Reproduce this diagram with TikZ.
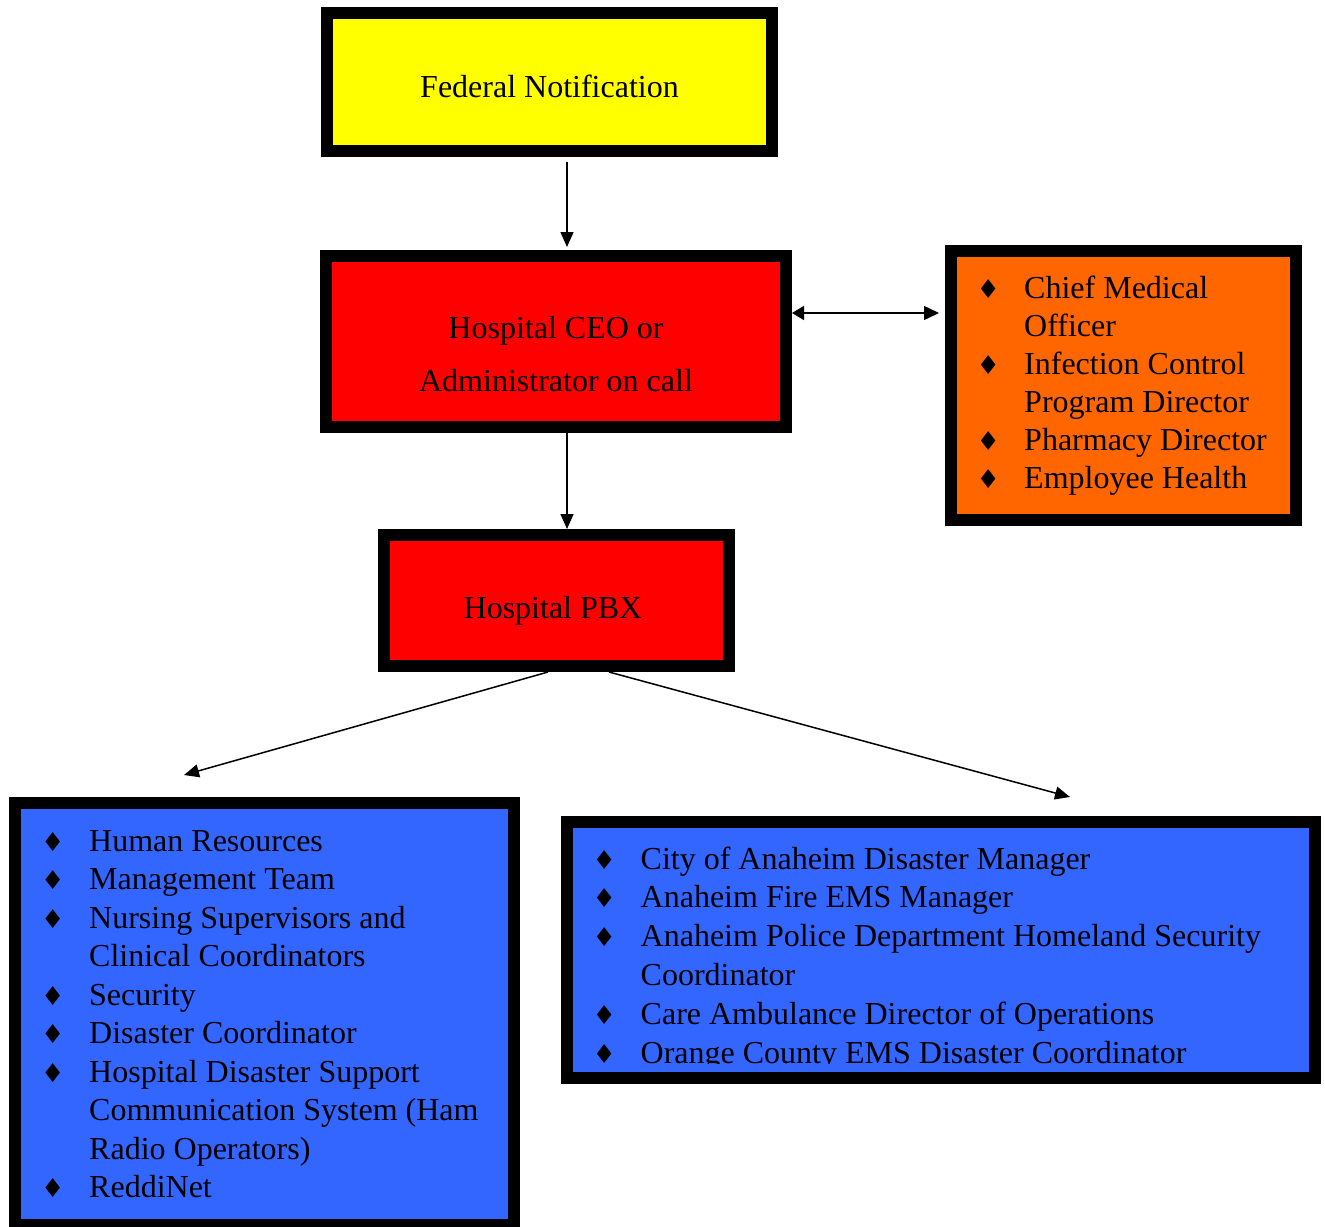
\documentclass[tikz,border=0pt]{standalone}
\usepackage{fontspec}
\setmainfont{Liberation Serif}
\newfontfamily\symfont{DejaVu Sans}
\usetikzlibrary{arrows.meta}
\definecolor{fedyellow}{HTML}{FFFF00}
\definecolor{boxred}{HTML}{FF0000}
\definecolor{boxorange}{HTML}{FF6600}
\definecolor{boxblue}{HTML}{3366FF}
\newcommand{\bul}{\makebox[20pt]{\fontsize{26}{26}\symfont ♦}}
\begin{document}
\begin{tikzpicture}[x=1pt,y=-1pt,
  box/.style={draw=black, line width=12pt, rectangle, inner sep=0pt, outer sep=6pt},
  txt/.style={font=\fontsize{32}{38}\selectfont, inner sep=0pt, anchor=base},
  lst/.style={inner sep=0pt, anchor=base west},
  arr/.style={line width=1.5pt, -{Triangle[length=15pt,width=13pt]}},
]
\useasboundingbox (0,0) rectangle (1325,1226);
% boxes
\node[box, fill=fedyellow, minimum width=445pt, minimum height=138pt] (fed) at (549.5,82) {};
\node[box, fill=boxred, minimum width=460.5pt, minimum height=171pt] (ceo) at (555.75,341.5) {};
\node[box, fill=boxred, minimum width=345pt, minimum height=131pt] (pbx) at (556,600.5) {};
\node[box, fill=boxorange, minimum width=345pt, minimum height=269pt] (cmo) at (1123.5,385.5) {};
\node[box, fill=boxblue, minimum width=499pt, minimum height=422pt] (hosp) at (264.5,1014) {};
\node[box, fill=boxblue, minimum width=748pt, minimum height=256pt] (city) at (941,950) {};
% texts
\node[txt] (fedt) at (549.5,97) {Federal Notification};
\node[txt] (ceot1) at (556,338) {Hospital CEO or};
\node[txt] (ceot2) at (556,391) {Administrator on call};
\node[txt] (pbxt) at (553,618) {Hospital PBX};
\node[lst, font=\fontsize{32}{38}\selectfont] (cmol) at (978,298) {\begin{tabular}[t]{@{}l@{\hspace{26pt}}l@{}}
\bul & Chief Medical\\
 & Officer\\
\bul & Infection Control\\
 & Program Director\\
\bul & Pharmacy Director\\
\bul & Employee Health
\end{tabular}};
\node[lst, font=\fontsize{32}{38.5}\selectfont] (hospl) at (42.5,851) {\begin{tabular}[t]{@{}l@{\hspace{26.5pt}}l@{}}
\bul & Human Resources\\
\bul & Management Team\\
\bul & Nursing Supervisors and\\
 & Clinical Coordinators\\
\bul & Security\\
\bul & Disaster Coordinator\\
\bul & Hospital Disaster Support\\
 & Communication System (Ham\\
 & Radio Operators)\\
\bul & ReddiNet
\end{tabular}};
\begin{scope}
\clip (573,828) rectangle (1309,1063);
\node[lst, font=\fontsize{32}{38.8}\selectfont] (cityl) at (594,869) {\begin{tabular}[t]{@{}l@{\hspace{26.5pt}}l@{}}
\bul & City of Anaheim Disaster Manager\\
\bul & Anaheim Fire EMS Manager\\
\bul & Anaheim Police Department Homeland Security\\
 & Coordinator\\
\bul & Care Ambulance Director of Operations\\
\bul & Orange County EMS Disaster Coordinator
\end{tabular}};
\end{scope}
% connectors
\coordinate (ax) at (567,0);
\coordinate (ay) at (0,313);
\coordinate (lt) at (184,775);
\coordinate (rt) at (1070,797);
\draw[arr, shorten <=5pt, shorten >=3pt] (fed.south -| ax) -- (ceo.north -| ax);
\draw[arr] (ceo.south -| ax) -- (pbx.north -| ax);
\draw[line width=1.5pt, {Triangle[length=12pt,width=14pt]}-{Triangle[length=15pt,width=14pt]}, shorten >=6pt] (ceo.east |- ay) -- (cmo.west |- ay);
\draw[arr] ([xshift=-8pt]pbx.south) -- (lt);
\draw[arr] ([xshift=53pt]pbx.south) -- (rt);
\end{tikzpicture}
\end{document}
